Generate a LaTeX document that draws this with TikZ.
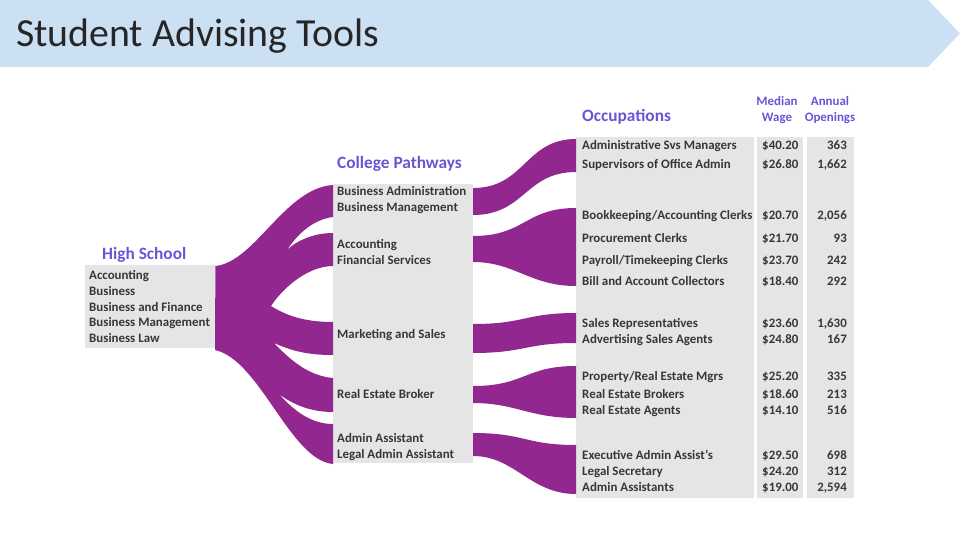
\documentclass[tikz,border=0pt]{standalone}
\usepackage{fontspec}
\setmainfont{Carlito}
\definecolor{banner}{RGB}{204,224,243}
\definecolor{flow}{RGB}{146,39,143}
\definecolor{head}{RGB}{106,84,214}
\definecolor{boxgray}{RGB}{229,229,229}
\definecolor{txt}{RGB}{55,55,55}
\tikzset{
  panel/.style={fill=boxgray, draw=none},
  item/.style={font=\bfseries\fontsize{12.9}{14}\selectfont, text=txt, inner sep=0pt, anchor=base west},
  num/.style={font=\bfseries\fontsize{12.9}{14}\selectfont, text=txt, inner sep=0pt, anchor=base east},
  hdr/.style={font=\bfseries\fontsize{17.3}{20}\selectfont, text=head, inner sep=0pt, anchor=base west},
  subhdr/.style={font=\bfseries\fontsize{12.9}{14}\selectfont, text=head, inner sep=0pt, anchor=base},
  band/.style={fill=flow, draw=none}
}
\begin{document}
\begin{tikzpicture}[x=1pt,y=-1pt]
\useasboundingbox (0,0) rectangle (960,540);
% title banner
\fill[banner] (0,0) -- (928,0) -- (960,33.5) -- (928,67) -- (0,67) -- cycle;
\node[font=\fontsize{39.8}{44}\selectfont, text=black!85, inner sep=0pt, anchor=base west] (title) at (16,47) {Student Advising Tools};

% boxes
\node[panel, minimum width=130pt, minimum height=83pt, inner sep=0pt, anchor=north west] (hs) at (85,265) {};
\node[panel, minimum width=140pt, minimum height=279pt, inner sep=0pt, anchor=north west] (cp) at (333,184) {};
\node[panel, minimum width=178pt, minimum height=361pt, inner sep=0pt, anchor=north west] (occ) at (576,137) {};
\node[panel, minimum width=46pt, minimum height=361pt, inner sep=0pt, anchor=north west] (wage) at (757,137) {};
\node[panel, minimum width=47pt, minimum height=361pt, inner sep=0pt, anchor=north west] (open) at (807,137) {};

% headers
\node[hdr] (hshead) at (102,259) {High School};
\node[hdr] (cphead) at (337,169) {College Pathways};
\node[hdr] (occhead) at (582,122) {Occupations};
\node[subhdr] (wh1) at (777,105.5) {Median};
\node[subhdr] (wh2) at (777,121.5) {Wage};
\node[subhdr] (oh1) at (830,105.5) {Annual};
\node[subhdr] (oh2) at (830,121.5) {Openings};

% high school items
\foreach \n/\y/\t in {hs1/279.5/Accounting, hs2/295.2/Business, hs3/311/Business and Finance, hs4/326.7/Business Management, hs5/342.5/Business Law}
  \node[item] (\n) at (89,\y) {\t};

% college items
\foreach \n/\y/\t in {cp1/195.5/Business Administration, cp2/211.5/Business Management, cp3/248.5/Accounting, cp4/264.5/Financial Services, cp5/338.5/Marketing and Sales, cp6/398.5/Real Estate Broker, cp7/442.5/Admin Assistant, cp8/458.5/Legal Admin Assistant}
  \node[item] (\n) at (337,\y) {\t};

% occupations
\foreach \n/\y/\t/\w/\o in {
  o1/150/Administrative Svs Managers/\$40.20/363,
  o2/168.5/Supervisors of Office Admin/\$26.80/{1,662},
  o3/219.5/Bookkeeping\slash Accounting Clerks/\$20.70/{2,056},
  o4/242.5/Procurement Clerks/\$21.70/93,
  o5/264.5/Payroll\slash Timekeeping Clerks/\$23.70/242,
  o6/285.5/Bill and Account Collectors/\$18.40/292,
  o7/327.5/Sales Representatives/\$23.60/{1,630},
  o8/343.5/Advertising Sales Agents/\$24.80/167,
  o9/380.5/Property\slash Real Estate Mgrs/\$25.20/335,
  o10/398.5/Real Estate Brokers/\$18.60/213,
  o11/414/Real Estate Agents/\$14.10/516,
  o12/459.5/Executive Admin Assist’s/\$29.50/698,
  o13/475/Legal Secretary/\$24.20/312,
  o14/491/Admin Assistants/\$19.00/{2,594}}
{
  \node[item] (\n) at (582,\y) {\t};
  \node[item] (\n w) at (762,\y) {\w};
  \node[num] (\n o) at (847,\y) {\o};
}

% left fan: high school -> college pathways
\fill[band] (hs.north east) ++(0,1)
  .. controls (255,262) and (285,188) .. (333,185)
  -- (333,217) .. controls (310,220) and (295,238) .. (287,250)
  .. controls (297,240) and (315,233) .. (333,233)
  -- (333,266) .. controls (310,266) and (285,285) .. (271,306)
  .. controls (290,318) and (310,322) .. (333,322)
  -- (333,355) .. controls (305,355) and (290,350) .. (274,343)
  .. controls (292,362) and (310,376) .. (333,378)
  -- (333,412) .. controls (310,412) and (292,404) .. (279,394)
  .. controls (295,412) and (312,424) .. (333,424)
  -- (333,464) .. controls (290,460) and (260,360) .. (215,350)
  -- cycle;

% right bands: college pathways -> occupations
\fill[band] (473,188) .. controls (525,188) and (525,139) .. (576,139)
  -- (576,172) .. controls (525,172) and (525,215) .. (473,215) -- cycle;
\fill[band] (473,236) .. controls (525,236) and (525,208) .. (576,208)
  -- (576,286) .. controls (530,286) and (515,262) .. (473,262) -- cycle;
\fill[band] (473,324) .. controls (525,324) and (525,313) .. (576,313)
  -- (576,343) .. controls (525,343) and (525,353) .. (473,353) -- cycle;
\fill[band] (473,386) .. controls (525,386) and (525,366) .. (576,366)
  -- (576,418) .. controls (530,418) and (515,403) .. (473,403) -- cycle;
\fill[band] (473,433) .. controls (525,433) and (525,445) .. (576,445)
  -- (576,494) .. controls (530,494) and (515,456) .. (473,456) -- cycle;
\end{tikzpicture}
\end{document}
